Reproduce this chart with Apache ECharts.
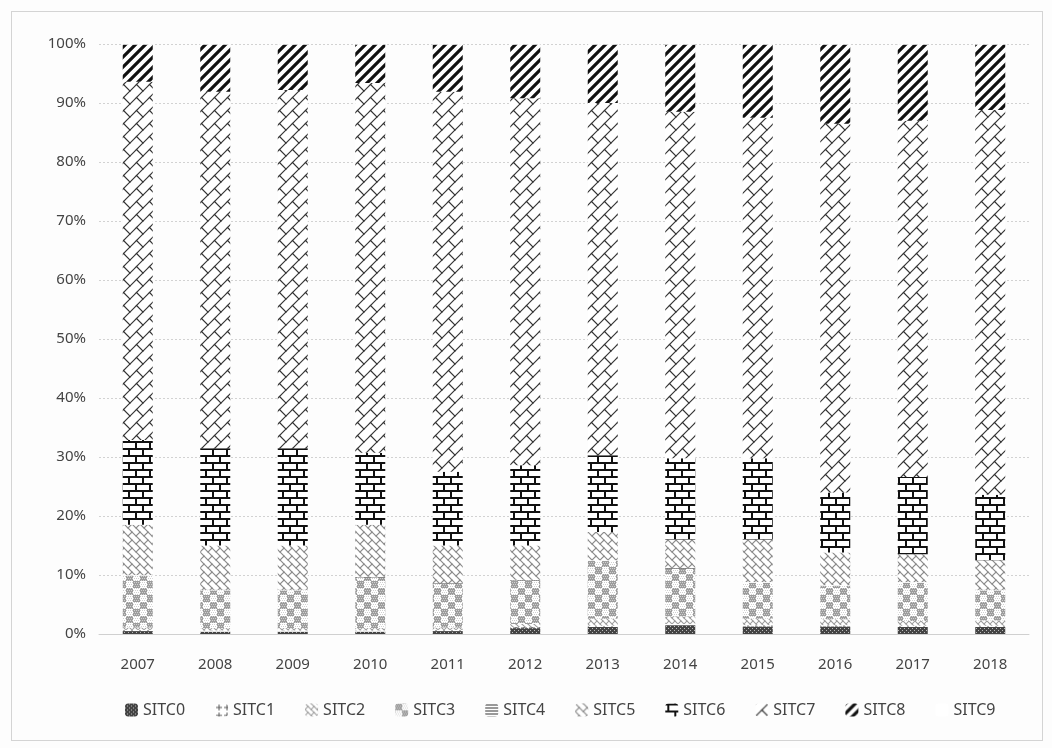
<!DOCTYPE html>
<html>
<head>
<meta charset="utf-8">
<script src="https://cdn.jsdelivr.net/npm/echarts@6/dist/echarts.min.js"></script>
<style>
  html, body { margin: 0; padding: 0; background: #fdfdfd; }
  #frame { position: absolute; left: 11px; top: 11px; width: 1030px; height: 728px; border: 1px solid #d4d4d4; }
  #chart { position: absolute; left: 0; top: 0; width: 1052px; height: 748px; }
</style>
</head>
<body>
<div id="frame"></div>
<div id="chart"></div>
<script>
const years = ['2007', '2008', '2009', '2010', '2011', '2012', '2013', '2014', '2015', '2016', '2017', '2018'];
const yTicks = [0, 10, 20, 30, 40, 50, 60, 70, 80, 90, 100];

// shares in percent
const sitc0 = [0.5, 0.4, 0.4, 0.4, 0.5, 1.0, 1.2, 1.5, 1.3, 1.3, 1.2, 1.2];
const sitc1 = [0.2, 0.2, 0.2, 0.2, 0.2, 0.2, 0.2, 0.2, 0.2, 0.2, 0.2, 0.2];
const sitc2 = [0.4, 0.4, 0.4, 0.4, 0.4, 0.5, 1.2, 1.3, 1.1, 1.0, 0.8, 0.9];
const sitc3 = [8.8, 6.4, 6.4, 8.6, 7.4, 7.4, 9.8, 8.1, 6.1, 5.7, 6.5, 5.1];
const sitc4 = [0.1, 0.1, 0.1, 0.1, 0.1, 0.1, 0.1, 0.1, 0.1, 0.1, 0.1, 0.1];
const sitc5 = [8.5, 7.5, 7.5, 8.8, 6.4, 5.8, 4.8, 4.8, 7.2, 5.5, 4.7, 5.0];
const sitc6 = [14.4, 16.5, 16.5, 12.2, 12.5, 13.6, 13.0, 13.8, 13.8, 10.2, 13.1, 11.1];
const sitc7 = [60.7, 60.4, 60.7, 62.7, 64.4, 62.2, 59.7, 58.7, 57.7, 62.5, 60.4, 65.2];
const sitc8 = [6.3, 8.0, 7.7, 6.5, 8.0, 9.1, 9.9, 11.4, 12.4, 13.4, 12.9, 11.1];
const sitc9 = [0.1, 0.1, 0.1, 0.1, 0.1, 0.1, 0.1, 0.1, 0.1, 0.1, 0.1, 0.1];

const names = ['SITC0', 'SITC1', 'SITC2', 'SITC3', 'SITC4', 'SITC5', 'SITC6', 'SITC7', 'SITC8', 'SITC9'];
const values = [sitc0, sitc1, sitc2, sitc3, sitc4, sitc5, sitc6, sitc7, sitc8, sitc9];

// --- hatch patterns, drawn on small canvases ---
function tile(w, h, draw) {
  const c = document.createElement('canvas');
  c.width = w; c.height = h;
  const ctx = c.getContext('2d');
  ctx.fillStyle = '#fff';
  ctx.fillRect(0, 0, w, h);
  draw(ctx);
  return { image: c, repeat: 'repeat' };
}

// brick lattice rotated by 45 degrees, tile size s = sqrt(2) * row height
function rotBrick(s, angle, color, lw) {
  return tile(s, s, ctx => {
    const h = s / Math.SQRT2, w = 2 * h;
    ctx.strokeStyle = color; ctx.lineWidth = lw; ctx.lineCap = 'square';
    ctx.translate(s / 2, s / 2);
    ctx.rotate(angle);
    for (let i = -8; i <= 8; i++) {
      ctx.beginPath(); ctx.moveTo(-100, i * h); ctx.lineTo(100, i * h); ctx.stroke();
      for (let j = -8; j <= 8; j++) {
        const x = j * w + (Math.abs(i) % 2 ? w / 2 : 0);
        ctx.beginPath(); ctx.moveTo(x, i * h); ctx.lineTo(x, (i + 1) * h); ctx.stroke();
      }
    }
  });
}

const patterns = [
  tile(4, 4, ctx => { ctx.fillStyle = '#444'; ctx.fillRect(0, 0, 4, 4); ctx.fillStyle = '#bbb'; ctx.fillRect(0, 0, 1, 1); ctx.fillRect(2, 2, 1, 1); }),
  tile(8, 8, ctx => { ctx.strokeStyle = '#555'; ctx.lineWidth = 1; ctx.beginPath(); ctx.moveTo(4, 1); ctx.lineTo(4, 7); ctx.moveTo(1, 4); ctx.lineTo(7, 4); ctx.stroke(); }),
  rotBrick(6, Math.PI / 4, '#9a9a9a', 1),
  tile(14, 14, ctx => {
    ctx.fillStyle = '#9c9c9c'; ctx.fillRect(0, 0, 7, 7); ctx.fillRect(7, 7, 7, 7);
    ctx.fillStyle = '#d0d0d0';
    for (let x = 0; x < 14; x += 2) for (let y = 0; y < 14; y += 2) ctx.fillRect(x + (y % 4 ? 1 : 0), y, 1, 1);
  }),
  tile(8, 6, ctx => { ctx.fillStyle = '#333'; ctx.fillRect(0, 1, 8, 1); ctx.fillRect(0, 4, 8, 1); }),
  rotBrick(8, Math.PI / 4, '#8a8a8a', 1.2),
  tile(14, 14, ctx => {
    ctx.fillStyle = '#111';
    ctx.fillRect(0, 0, 14, 2); ctx.fillRect(0, 7, 14, 2);
    ctx.fillRect(2, 0, 2, 7); ctx.fillRect(9, 7, 2, 7);
  }),
  rotBrick(13, -Math.PI / 4, '#333', 1.2),
  tile(10, 10, ctx => {
    ctx.strokeStyle = '#111'; ctx.lineWidth = 3.2;
    ctx.beginPath();
    ctx.moveTo(-2, 12); ctx.lineTo(12, -2);
    ctx.moveTo(-7, 7); ctx.lineTo(7, -7);
    ctx.moveTo(3, 17); ctx.lineTo(17, 3);
    ctx.stroke();
  }),
  tile(4, 4, ctx => {})
];

const series = names.map((n, i) => ({
  name: n,
  type: 'bar',
  stack: 'total',
  barWidth: 30,
  data: values[i],
  itemStyle: { color: patterns[i] }
}));

const chart = echarts.init(document.getElementById('chart'));
chart.setOption({
  backgroundColor: 'transparent',
  animation: false,
  grid: { left: 99, right: 23, top: 44, bottom: 114 },
  legend: {
    bottom: 25,
    left: 120,
    itemWidth: 13,
    itemHeight: 13,
    itemGap: 30,
    textStyle: { fontFamily: 'Noto Sans', fontSize: 16, color: '#444' },
    data: names
  },
  xAxis: {
    type: 'category',
    data: years,
    axisLine: { lineStyle: { color: '#d0d0d0' } },
    axisTick: { show: false },
    axisLabel: { margin: 23, fontFamily: 'Noto Sans', fontSize: 15, color: '#444' }
  },
  yAxis: {
    type: 'value',
    min: yTicks[0],
    max: yTicks[yTicks.length - 1],
    interval: 10,
    axisLabel: { formatter: '{value}%', margin: 13, fontFamily: 'Noto Sans', fontSize: 15, color: '#444' },
    splitLine: { lineStyle: { color: '#d2d2d2', type: [2, 2] } },
    axisLine: { show: false },
    axisTick: { show: false }
  },
  series: series
});
</script>
</body>
</html>
